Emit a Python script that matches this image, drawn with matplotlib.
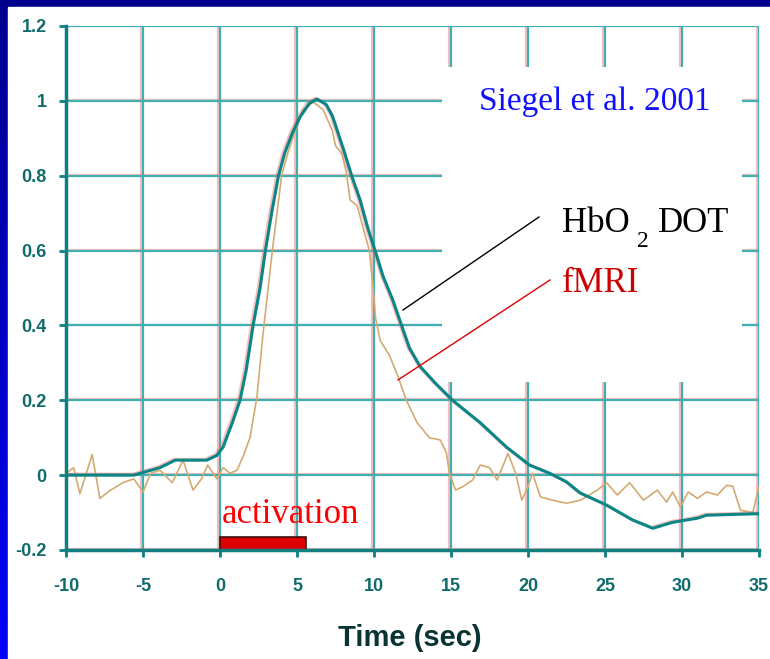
import numpy as np
import matplotlib
matplotlib.use("Agg")
import matplotlib.pyplot as plt
import matplotlib.patheffects as pe
from matplotlib.patches import Rectangle
from matplotlib.lines import Line2D

# HbO2 DOT curve (teal)
dot_t = [-10, -5.6, -3.9, -2.9, -0.85, -0.2, 0.2, 0.8, 1.3, 1.7, 2.15, 2.6, 2.95, 3.35,
         3.8, 4.2, 4.7, 5.2, 5.8, 6.3, 6.9, 7.3, 7.7, 8.1, 8.55, 9.1, 9.6, 10.07, 10.6,
         11.2, 12.3, 13.0, 14.0, 15.1, 16.9, 18.6, 20.1, 21.4, 22.5, 23.4, 25.1, 26.8,
         28.1, 29.4, 31.0, 31.6, 35.0]
dot_y = [0.0, 0.0, 0.02, 0.04, 0.04, 0.053, 0.075, 0.14, 0.2, 0.28, 0.4, 0.5, 0.6, 0.7,
         0.8, 0.86, 0.914, 0.957, 0.993, 1.005, 0.99, 0.96, 0.91, 0.86, 0.8, 0.735, 0.66,
         0.6, 0.53, 0.47, 0.34, 0.29, 0.245, 0.2, 0.14, 0.075, 0.027, 0.005, -0.018,
         -0.048, -0.08, -0.12, -0.142, -0.126, -0.115, -0.107, -0.103]

# fMRI curve (tan, noisy)
fmri_t = [-10, -9.5, -9.1, -8.3, -7.8, -7.1, -6.3, -5.6, -5.0, -4.5, -3.9, -3.1, -2.4,
          -1.75, -1.2, -0.8, -0.2, 0.2, 0.65, 1.1, 1.5, 1.95, 2.4, 2.8, 3.1, 3.4, 3.7,
          4.0, 4.4, 4.8, 5.4, 6.05, 6.7, 7.3, 7.5, 7.9, 8.2, 8.45, 8.9, 9.3, 9.7, 9.95,
          10.1, 10.4, 11.0, 11.5, 12.1, 12.8, 13.6, 14.3, 14.7, 14.9, 15.3, 15.8, 16.4,
          16.9, 17.5, 18.0, 18.7, 19.2, 19.6, 20.0, 20.3, 20.8, 21.6, 22.5, 23.4, 24.5,
          25.1, 25.8, 26.6, 27.5, 28.4, 29.0, 29.4, 29.9, 30.4, 31.0, 31.6, 32.3, 32.9,
          33.3, 33.8, 34.6, 35.0]
fmri_y = [0.005, 0.02, -0.05, 0.055, -0.062, -0.04, -0.02, -0.01, -0.045, 0.005, 0.013,
          -0.02, 0.04, -0.04, -0.01, 0.027, -0.01, 0.02, 0.005, 0.013, 0.05, 0.10, 0.21,
          0.38, 0.49, 0.6, 0.7, 0.8, 0.86, 0.91, 0.976, 0.997, 0.976, 0.92, 0.88, 0.86,
          0.81, 0.735, 0.72, 0.66, 0.6, 0.5, 0.42, 0.36, 0.32, 0.27, 0.2, 0.14, 0.10,
          0.094, 0.06, 0.005, -0.04, -0.03, -0.013, 0.027, 0.02, -0.013, 0.058, 0.005,
          -0.067, -0.03, 0.005, -0.058, -0.067, -0.075, -0.067, -0.04, -0.02, -0.053,
          -0.02, -0.067, -0.04, -0.072, -0.045, -0.085, -0.045, -0.062, -0.045, -0.053,
          -0.027, -0.03, -0.094, -0.1, -0.03]

x_ticks = [-10, -5, 0, 5, 10, 15, 20, 25, 30, 35]
y_ticks = [-0.2, 0, 0.2, 0.4, 0.6, 0.8, 1, 1.2]
y_labels = ["-0.2", "0", "0.2", "0.4", "0.6", "0.8", "1", "1.2"]
activation = [0, 5.6]

W, H = 770, 659
shadow = [pe.SimpleLineShadow(offset=(-1.2, 0.6), shadow_color="#f07070", alpha=0.45), pe.Normal()]


def fx(px):
    return px / W


def fy(py):
    return 1 - py / H


fig = plt.figure(figsize=(W / 100, H / 100), dpi=100)

# blue slide background with white panel
bg = fig.add_axes([0, 0, 1, 1], zorder=-10)
grad = np.linspace(0, 1, 256).reshape(-1, 1)
cmap = matplotlib.colors.LinearSegmentedColormap.from_list("bl", ["#00008e", "#0000f8"])
bg.imshow(grad, aspect="auto", cmap=cmap, extent=[0, 1, 0, 1], origin="upper")
bg.add_patch(Rectangle((fx(8), 0), 1, fy(7), color="white"))
bg.set_xlim(0, 1)
bg.set_ylim(0, 1)
bg.axis("off")

ax = fig.add_axes([fx(66), fy(550), fx(759) - fx(66), fy(26) - fy(550)])
ax.set_facecolor("white")
ax.set_xlim(-10, 35)
ax.set_ylim(-0.2, 1.2)

for v in x_ticks:
    ax.axvline(v, color="#3eb0b0", lw=1.6, zorder=1, path_effects=shadow)
for v in y_ticks:
    ax.axhline(v, color="#3eb0b0", lw=1.6, zorder=1, path_effects=shadow)

ax.plot(fmri_t, fmri_y, color="#d3aa72", lw=1.2, zorder=3)
ax.plot(dot_t, dot_y, color="#0a8686", lw=2.2, zorder=4, path_effects=shadow)

# activation bar
ax.add_patch(Rectangle((activation[0], -0.2), activation[1] - activation[0], 0.035,
                       facecolor="#dd0000", edgecolor="#3a1010", lw=1.2, zorder=5,
                       clip_on=False))

for s in ["left", "bottom"]:
    ax.spines[s].set_color("#0f7f7f")
    ax.spines[s].set_linewidth(2.5)
    ax.spines[s].set_zorder(6)
for s in ["top", "right"]:
    ax.spines[s].set_visible(False)

ax.set_xticks(x_ticks)
ax.set_xticklabels([str(v) for v in x_ticks])
ax.set_yticks(y_ticks)
ax.set_yticklabels(y_labels)
ax.tick_params(axis="both", colors="#0f7f7f", length=5, width=2, direction="out",
               labelcolor="#106c6c")
ax.tick_params(axis="x", pad=15)
ax.tick_params(axis="y", pad=9)
for lab in ax.get_xticklabels() + ax.get_yticklabels():
    lab.set_fontfamily("Liberation Sans")
    lab.set_fontweight("bold")
    lab.set_fontsize(13)

fig.text(fx(410), fy(638), "Time (sec)", ha="center", va="center", fontsize=21,
         fontweight="bold", family="Liberation Sans", color="#0a3434")

# white label box
fig.add_artist(Rectangle((fx(442), fy(382)), fx(742) - fx(442), fy(67) - fy(382),
                         transform=fig.transFigure, facecolor="white", edgecolor="none",
                         zorder=5))
serif = "Liberation Serif"
fig.text(fx(595), fy(102), "Siegel et al. 2001", ha="center", va="center", fontsize=24,
         family=serif, color="#1010ff", zorder=7)
fig.text(fx(562), fy(232), "HbO", ha="left", va="baseline", fontsize=25, family=serif,
         color="black", zorder=7)
fig.text(fx(637), fy(247), "2", ha="left", va="baseline", fontsize=17, family=serif,
         color="black", zorder=7)
fig.text(fx(658), fy(232), "DOT", ha="left", va="baseline", fontsize=25, family=serif,
         color="black", zorder=7)
fig.text(fx(562), fy(292), "fMRI", ha="left", va="baseline", fontsize=25, family=serif,
         color="#cc0000", zorder=7)
fig.add_artist(Line2D([fx(539), fx(403)], [fy(217), fy(310)], transform=fig.transFigure,
                      color="black", lw=1, zorder=7))
fig.add_artist(Line2D([fx(550), fx(398)], [fy(280), fy(380)], transform=fig.transFigure,
                      color="#dd0000", lw=1, zorder=7))

fig.text(fx(222), fy(523), "activation", ha="left", va="baseline", fontsize=25,
         family=serif, color="#ff0000", zorder=7)

fig.savefig("out.png", dpi=100)
